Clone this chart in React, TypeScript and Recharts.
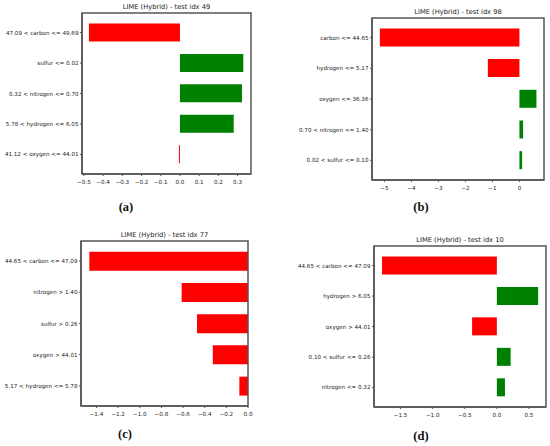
import React from "react";
import { BarChart, Bar, XAxis, YAxis, Cell } from "recharts";

// ---- data ----
const featuresA = ["47.09 < carbon <= 49.69", "sulfur <= 0.02", "0.32 < nitrogen <= 0.70", "5.78 < hydrogen <= 6.05", "41.12 < oxygen <= 44.01"];
const valuesA = [-0.474, 0.33, 0.323, 0.28, -0.005];
const ticksA = [-0.5, -0.4, -0.3, -0.2, -0.1, 0.0, 0.1, 0.2, 0.3];

const featuresB = ["carbon <= 44.65", "hydrogen <= 5.17", "oxygen <= 36.36", "0.70 < nitrogen <= 1.40", "0.02 < sulfur <= 0.10"];
const valuesB = [-5.17, -1.17, 0.63, 0.135, 0.1];
const ticksB = [-5, -4, -3, -2, -1, 0];

const featuresC = ["44.65 < carbon <= 47.09", "nitrogen > 1.40", "sulfur > 0.26", "oxygen > 44.01", "5.17 < hydrogen <= 5.78"];
const valuesC = [-1.466, -0.613, -0.471, -0.325, -0.08];
const ticksC = [-1.4, -1.2, -1.0, -0.8, -0.6, -0.4, -0.2, 0.0];

const featuresD = ["44.65 < carbon <= 47.09", "hydrogen > 6.05", "oxygen > 44.01", "0.10 < sulfur <= 0.26", "nitrogen <= 0.32"];
const valuesD = [-1.79, 0.644, -0.386, 0.215, 0.126];
const ticksD = [-1.5, -1.0, -0.5, 0.0, 0.5];

const titles = ["LIME (Hybrid) - test idx 49", "LIME (Hybrid) - test idx 98", "LIME (Hybrid) - test idx 77", "LIME (Hybrid) - test idx 10"];
const panelLabels = ["(a)", "(b)", "(c)", "(d)"];

const FONT = "'DejaVu Sans', sans-serif";
const FRAME = "#555555";
const TEXT = "#222";
const YW = 80;

type PanelProps = {
  features: string[];
  values: number[];
  ticks: number[];
  domain: [number, number];
  digits: number;
  frame: { l: number; t: number; r: number; b: number };
  title: string;
  label: string;
  labelPos: { x: number; y: number };
};

const fmt = (digits: number) => (v: number) => {
  const s = Math.abs(v).toFixed(digits);
  return v < 0 && Math.abs(v) > 1e-9 ? "\u2212" + s : s;
};

const YTick = (props: any) => {
  const { x, y, payload } = props;
  return (
    <text x={x} y={y} dy="0.36em" textAnchor="end" fill={TEXT} fontSize={5.6} fontFamily={FONT}>
      {payload.value}
    </text>
  );
};

const makeXTick = (digits: number) => (props: any) => {
  const { x, y, payload } = props;
  return (
    <text x={x} y={y} dy="0.75em" textAnchor="middle" fill={TEXT} fontSize={5.6} fontFamily={FONT}>
      {fmt(digits)(payload.value)}
    </text>
  );
};

function Panel({ features, values, ticks, domain, digits, frame, title, label, labelPos }: PanelProps) {
  const data = features.map((f, i) => ({ name: f, value: values[i] }));
  const w = frame.r - frame.l;
  const h = frame.b - frame.t;
  const pad = Math.round(h * 0.14 / 5.28 * 10) / 10;
  const mt = 2;
  const mr = 8;
  const xh = 20;
  return (
    <>
      <div
        style={{
          position: "absolute",
          left: frame.l,
          width: w,
          top: frame.t - 10,
          height: 8,
          lineHeight: "8px",
          fontFamily: FONT,
          fontSize: 6.7,
          textAlign: "center",
          color: TEXT,
          whiteSpace: "nowrap",
        }}
      >
        {title}
      </div>
      <div style={{ position: "absolute", left: frame.l - YW, top: frame.t - mt }}>
        <BarChart
          width={w + YW + mr}
          height={h + mt + xh}
          data={data}
          layout="vertical"
          margin={{ top: mt, right: mr, left: 0, bottom: 0 }}
          barCategoryGap="20%"
        >
          <XAxis
            type="number"
            dataKey="value"
            domain={domain}
            allowDataOverflow
            ticks={ticks}
            interval={0}
            height={xh}
            tickSize={2}
            tickMargin={3.5}
            axisLine={{ stroke: FRAME, strokeWidth: 1.5 }}
            tickLine={{ stroke: FRAME }}
            tick={makeXTick(digits)}
          />
          <YAxis
            type="category"
            dataKey="name"
            width={YW}
            interval={0}
            padding={{ top: pad, bottom: pad }}
            tickSize={2}
            tickMargin={1.5}
            axisLine={{ stroke: FRAME, strokeWidth: 1.5 }}
            tickLine={{ stroke: FRAME }}
            tick={<YTick />}
          />
          <Bar dataKey="value" isAnimationActive={false} minPointSize={1}>
            {data.map((d, i) => (
              <Cell key={i} fill={d.value < 0 ? "#ff0000" : "#008000"} />
            ))}
          </Bar>
        </BarChart>
      </div>
      {/* axes frame (matplotlib spines) drawn as an SVG rectangle on top */}
      <svg
        width={w + 4}
        height={h + 4}
        style={{ position: "absolute", left: frame.l - 2, top: frame.t - 2, pointerEvents: "none", overflow: "visible" }}
      >
        <rect x={2} y={2} width={w} height={h} fill="none" stroke={FRAME} strokeWidth={1.5} />
      </svg>
      <div
        style={{
          position: "absolute",
          left: labelPos.x - 20,
          width: 40,
          top: labelPos.y - 8,
          height: 16,
          lineHeight: "16px",
          textAlign: "center",
          fontFamily: "'Liberation Serif', 'DejaVu Serif', serif",
          fontWeight: "bold",
          fontSize: 12.5,
          color: "#111",
        }}
      >
        {label}
      </div>
    </>
  );
}

export default function App() {
  return (
    <div style={{ position: "absolute", left: 0, top: 0, width: 550, height: 446, background: "#fff", overflow: "hidden" }}>
      <Panel
        features={featuresA}
        values={valuesA}
        ticks={ticksA}
        domain={[-0.51, 0.37]}
        digits={1}
        frame={{ l: 82, t: 13, r: 251, b: 174 }}
        title={titles[0]}
        label={panelLabels[0]}
        labelPos={{ x: 126, y: 207 }}
      />
      <Panel
        features={featuresB}
        values={valuesB}
        ticks={ticksB}
        domain={[-5.46, 0.91]}
        digits={0}
        frame={{ l: 372, t: 18, r: 544, b: 180 }}
        title={titles[1]}
        label={panelLabels[1]}
        labelPos={{ x: 421, y: 207 }}
      />
      <Panel
        features={featuresC}
        values={valuesC}
        ticks={ticksC}
        domain={[-1.543, 0]}
        digits={1}
        frame={{ l: 81, t: 241, r: 248, b: 406 }}
        title={titles[2]}
        label={panelLabels[2]}
        labelPos={{ x: 125, y: 434 }}
      />
      <Panel
        features={featuresD}
        values={valuesD}
        ticks={ticksD}
        domain={[-1.915, 0.766]}
        digits={1}
        frame={{ l: 374, t: 246, r: 546, b: 407 }}
        title={titles[3]}
        label={panelLabels[3]}
        labelPos={{ x: 421, y: 436 }}
      />
    </div>
  );
}
